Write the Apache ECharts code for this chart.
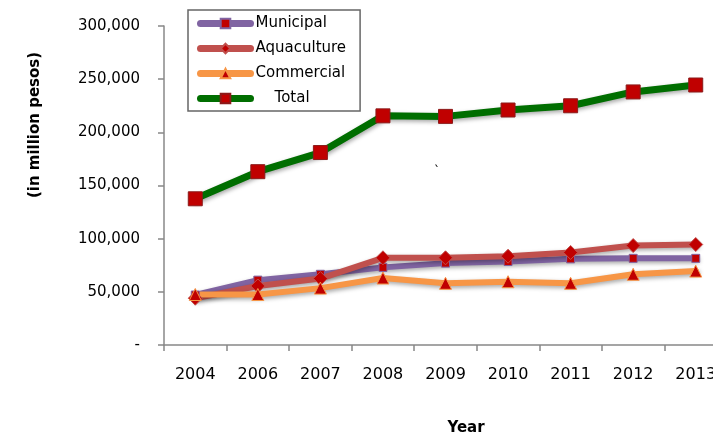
<!DOCTYPE html>
<html>
<head>
<meta charset="utf-8">
<script src="https://cdn.jsdelivr.net/npm/echarts@6/dist/echarts.min.js"></script>
<style>html,body{margin:0;padding:0;background:#fff;overflow:hidden}#c{width:750px;height:438px}</style>
</head>
<body>
<div id="c"></div>
<script>
const years = ['2004','2006','2007','2008','2009','2010','2011','2012','2013'];
const municipal   = [47000, 61000, 66500, 73000, 77000, 78500, 81000, 81500, 81500];
const aquaculture = [44000, 55500, 62500, 82000, 82000, 83500, 87000, 93500, 94500];
const commercial  = [47500, 47500, 53500, 63000, 58000, 59500, 58000, 66500, 69500];
const total       = [137500, 163000, 181000, 215500, 215000, 221000, 225000, 238000, 244500];
const yTicks = [0, 50000, 100000, 150000, 200000, 250000, 300000];

const font = 'DejaVu Sans';
const shadow = {shadowColor:'rgba(0,0,0,0.35)', shadowBlur:4, shadowOffsetX:1, shadowOffsetY:2};
function mk(name, data, color, width, symbol, size, symColor, symBorder) {
  return {
    name, type:'line', data, symbol, symbolSize:size,
    lineStyle:Object.assign({color, width, cap:'round', join:'round'}, shadow),
    itemStyle:{color:symColor, borderColor:symBorder, borderWidth:1},
    emphasis:{disabled:true}
  };
}
const chart = echarts.init(document.getElementById('c'));
chart.setOption({
  animation:false,
  grid:{left:164, top:26, width:563, height:319, containLabel:false},
  legend:{
    orient:'vertical', left:188, top:10,
    padding:[6,14,5,9], itemGap:10, itemWidth:50, itemHeight:12,
    borderColor:'#666', borderWidth:1.5, borderRadius:0,
    textStyle:{fontFamily:font, fontSize:15, color:'#000'},
    lineStyle:{width:7, cap:'round'},
    formatter: n => n === 'Total' ? '    Total' : n,
    data:['Municipal','Aquaculture','Commercial','Total']
  },
  xAxis:{
    type:'category', data:years, boundaryGap:true,
    axisLine:{lineStyle:{color:'#888', width:1.5}},
    axisTick:{show:true, length:6, lineStyle:{color:'#888', width:1.5}},
    axisLabel:{fontFamily:font, fontSize:16, color:'#000', margin:22}
  },
  yAxis:{
    type:'value', min:0, max:300000, interval:50000,
    axisLine:{show:true, lineStyle:{color:'#888', width:1.5}},
    axisTick:{show:true, length:6, lineStyle:{color:'#888', width:1.5}},
    splitLine:{show:false},
    axisLabel:{fontFamily:font, fontSize:15, color:'#000', margin:24,
      formatter: v => yTicks.includes(v) ? (v === 0 ? '-' : v.toLocaleString('en-US')) : ''}
  },
  graphic:[
    {type:'text', x:35, y:125, rotation:Math.PI/2,
     style:{text:'(in million pesos)', font:'bold 15px "DejaVu Sans"', fill:'#000', align:'center', verticalAlign:'middle'}},
    {type:'text', x:466, y:428,
     style:{text:'Year', font:'bold 15px "DejaVu Sans"', fill:'#000', align:'center', verticalAlign:'middle'}},
    {type:'text', x:437, y:172,
     style:{text:'`', font:'12px "DejaVu Sans"', fill:'#000', align:'center', verticalAlign:'middle'}}
  ],
  series:[
    mk('Municipal', municipal, '#8064A2', 6, 'rect', 8, '#C00000', '#8064A2'),
    mk('Aquaculture', aquaculture, '#C0504D', 6, 'diamond', 14, '#C00000', '#C0504D'),
    mk('Commercial', commercial, '#F79646', 6, 'triangle', 12, '#C00000', '#F79646'),
    mk('Total', total, '#006E00', 7, 'rect', 14, '#C00000', '#8B1A1A')
  ]
});
</script>
</body>
</html>
